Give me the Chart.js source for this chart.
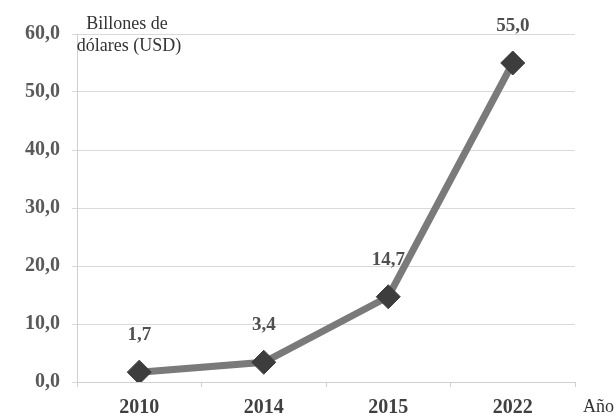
<!DOCTYPE html>
<html>
<head>
<meta charset="utf-8">
<script src="https://cdn.jsdelivr.net/npm/chart.js@4/dist/chart.umd.min.js"></script>
<style>
  html, body { margin: 0; padding: 0; background: #ffffff; }
  #wrap { width: 614px; height: 419px; position: relative; }
</style>
</head>
<body>
<div id="wrap"><canvas id="c" width="614" height="419"></canvas></div>
<script>
// Years on the horizontal axis
const years = ['2010', '2014', '2015', '2022'];
// Market value, billions of USD
const values = [1.7, 3.4, 14.7, 55.0];
// Value labels printed above each point
const valueLabels = ['1,7', '3,4', '14,7', '55,0'];
// Vertical axis ticks
const yTicks = [0, 10, 20, 30, 40, 50, 60];

const serif = '"Liberation Serif", "Times New Roman", serif';

const fmt = v => v.toFixed(1).replace('.', ',');

// Value labels above points plus the two axis captions
const annotate = {
  id: 'annotate',
  afterDatasetsDraw(chart) {
    const ctx = chart.ctx;
    const meta = chart.getDatasetMeta(0);
    ctx.save();
    ctx.font = 'bold 19px ' + serif;
    ctx.fillStyle = '#505050';
    ctx.textAlign = 'center';
    ctx.textBaseline = 'alphabetic';
    meta.data.forEach((pt, i) => {
      ctx.fillText(valueLabels[i], pt.x, pt.y - 32);
    });
    ctx.fillStyle = '#333333';
    ctx.font = '18px ' + serif;
    ctx.fillText('Billones de', 127, 29);
    ctx.fillText('dólares (USD)', 129, 51);
    ctx.textAlign = 'left';
    ctx.fillText('Año', 583, 412);
    ctx.restore();
  }
};

new Chart(document.getElementById('c'), {
  type: 'line',
  data: {
    labels: years,
    datasets: [{
      data: values,
      borderColor: '#7a7a7a',
      borderWidth: 7,
      tension: 0,
      pointStyle: 'rectRot',
      pointRadius: 12,
      pointHoverRadius: 12,
      pointBackgroundColor: '#3d3d3d',
      pointBorderColor: '#3d3d3d',
      pointBorderWidth: 1
    }]
  },
  options: {
    responsive: false,
    animation: false,
    events: [],
    layout: { padding: { top: 34, right: 39, left: 0, bottom: 0 } },
    plugins: { legend: { display: false }, tooltip: { enabled: false } },
    scales: {
      x: {
        type: 'category',
        offset: true,
        grid: {
          display: true,
          offset: true,
          drawOnChartArea: false,
          drawTicks: true,
          tickLength: 5,
          color: '#d0d0d0'
        },
        border: { display: true, color: '#d0d0d0', width: 1 },
        ticks: {
          color: '#404040',
          font: { family: serif, size: 20, weight: 'bold' },
          padding: 9,
          maxRotation: 0
        },
        afterFit(scale) { scale.height = 37; }
      },
      y: {
        min: 0,
        max: 60,
        afterBuildTicks(scale) { scale.ticks = yTicks.map(v => ({ value: v })); },
        grid: { color: '#d9d9d9', lineWidth: 1, drawTicks: true, tickLength: 5 },
        border: { display: true, color: '#d0d0d0', width: 1 },
        ticks: {
          color: '#595959',
          font: { family: serif, size: 20, weight: 'bold' },
          padding: 12,
          callback: v => fmt(v)
        },
        afterFit(scale) { scale.width = 77; }
      }
    }
  },
  plugins: [annotate]
});
</script>
</body>
</html>
